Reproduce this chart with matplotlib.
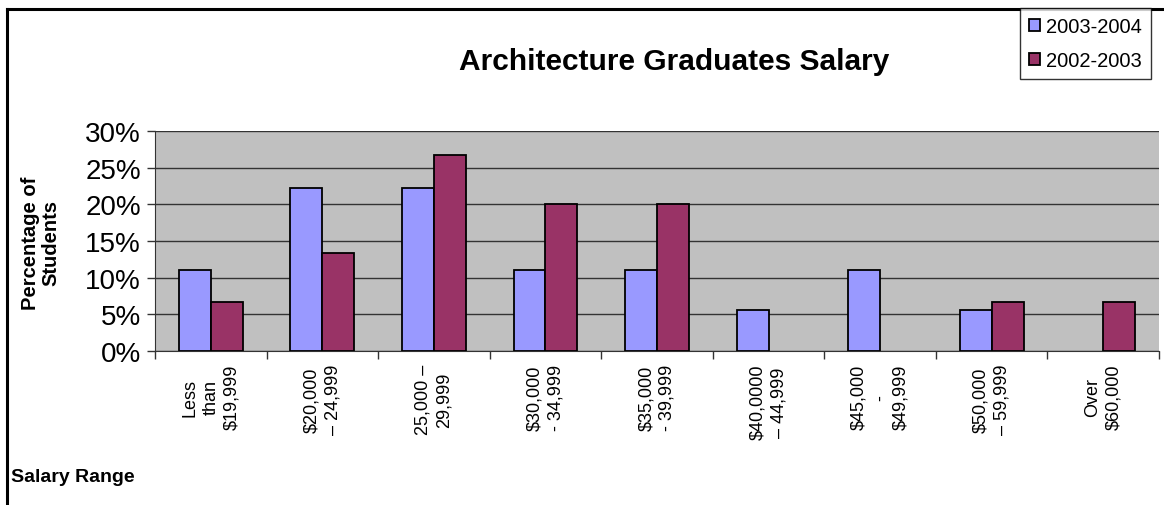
import numpy as np
import matplotlib
matplotlib.use("Agg")
import matplotlib.pyplot as plt
from matplotlib.ticker import PercentFormatter

plt.rcParams["font.family"] = ["Liberation Sans", "DejaVu Sans"]

# data
categories = ["Less\nthan\n$19,999", "$20,000\n– 24,999", "25,000 –\n29,999",
              "$30,000\n- 34,999", "$35,000\n- 39,999", "$40,0000\n– 44,999",
              "$45,000\n-\n$49,999", "$50,000\n– 59,999", "Over\n$60,000"]
series_names = ["2003-2004", "2002-2003"]
vals_0304 = [11.1, 22.2, 22.2, 11.1, 11.1, 5.6, 11.1, 5.6, 0.0]
vals_0203 = [6.7, 13.3, 26.7, 20.0, 20.0, 0.0, 0.0, 6.7, 6.7]

BLUE = "#9999FF"
MAROON = "#993366"
BG = "#C0C0C0"

W, H = 1164, 506
fig = plt.figure(figsize=(W / 100, H / 100), dpi=100)
fig.patch.set_facecolor("white")

# outer chart border (only left and top visible in the crop)
fig.add_artist(plt.Line2D([7 / W, 7 / W], [0, 1 - 10 / H], color="black", lw=2.2,
                          transform=fig.transFigure))
fig.add_artist(plt.Line2D([7 / W, 1], [1 - 10 / H, 1 - 10 / H], color="black", lw=2.2,
                          transform=fig.transFigure))

x0, x1, ytop, ybot = 155, 1159, 132, 352
ax = fig.add_axes([x0 / W, 1 - ybot / H, (x1 - x0) / W, (ybot - ytop) / H])
ax.set_facecolor(BG)

x = np.arange(len(categories))
w = 1 / 3.5
b1 = ax.bar(x - w / 2, vals_0304, w, color=BLUE, edgecolor="black", lw=1.3, zorder=3,
            label=series_names[0])
b2 = ax.bar(x + w / 2, vals_0203, w, color=MAROON, edgecolor="black", lw=1.3, zorder=3,
            label=series_names[1])
# empty categories show no bar at all
for bars in (b1, b2):
    for p in bars:
        if p.get_height() == 0:
            p.set_visible(False)

ax.set_xlim(-0.5, len(categories) - 0.5)
ax.set_ylim(0, 30)
ax.set_yticks(np.arange(0, 31, 5))
ax.yaxis.set_major_formatter(PercentFormatter(decimals=0))
ax.grid(axis="y", color="#333333", lw=1.0, zorder=1)
ax.tick_params(axis="y", labelsize=20, length=6, width=1, color="#333333", pad=4)

ax.set_xticks(np.arange(-0.5, len(categories), 1))
ax.set_xticklabels([])
ax.tick_params(axis="x", length=6, width=1, color="#333333", direction="out")
for i, lab in enumerate(categories):
    ax.text(i, -13 / (ybot - ytop), lab, transform=ax.get_xaxis_transform(), rotation=90,
            ha="center", va="top", multialignment="center", fontsize=13,
            linespacing=1.3)

for side in ["top", "right"]:
    ax.spines[side].set_visible(False)
ax.spines["left"].set_color("#333333")
ax.spines["bottom"].set_color("#333333")

fig.text(674 / W, 1 - 62 / H, "Architecture Graduates Salary", ha="center", va="center",
         fontsize=21.5, fontweight="bold")
fig.text(41 / W, 1 - 243 / H, "Percentage of\nStudents", ha="center", va="center",
         rotation=90, fontsize=14.5, fontweight="bold", linespacing=1.1)
fig.text(11 / W, 1 - 478 / H, "Salary Range", ha="left", va="center",
         fontsize=14, fontweight="bold")

leg = fig.legend(loc="upper right", bbox_to_anchor=(1151 / W, 1 - 9 / H),
                 fontsize=14.5, frameon=True, fancybox=False, handlelength=0.55,
                 handleheight=0.55, handletextpad=0.3, labelspacing=0.75,
                 borderpad=0.45, borderaxespad=0)
leg.get_frame().set_edgecolor("black")
leg.get_frame().set_linewidth(1.0)

fig.savefig("out.png", dpi=100, facecolor="white")
